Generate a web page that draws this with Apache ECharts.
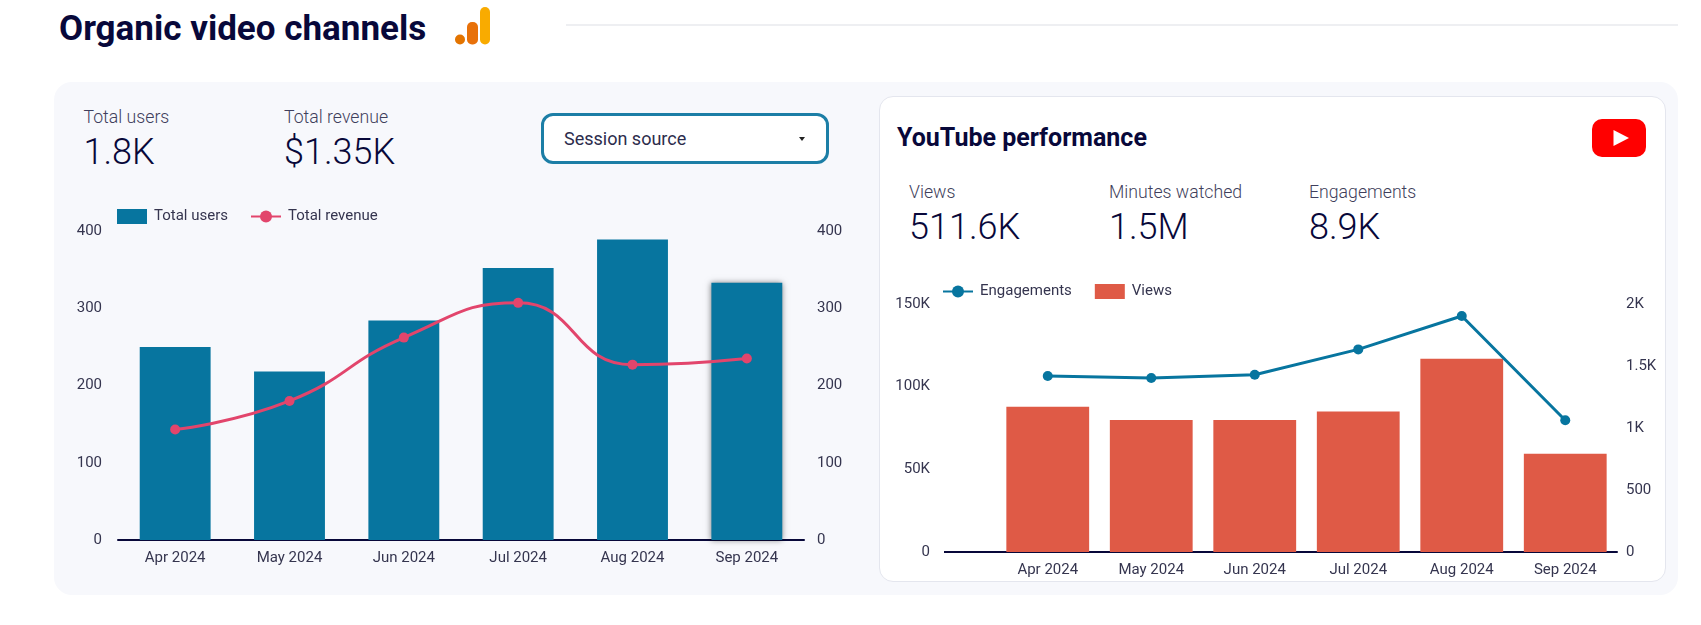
<!DOCTYPE html>
<html>
<head>
<meta charset="utf-8">
<title>Organic video channels</title>
<script src="https://cdn.jsdelivr.net/npm/echarts@6/dist/echarts.min.js"></script>
<style>
  html, body { margin: 0; padding: 0; background: #fff; overflow: hidden; }
  body { width: 1701px; height: 625px; position: relative; font-family: Roboto, sans-serif; color: #08083a; }
  .abs { position: absolute; white-space: nowrap; }
  .label { font-size: 17.7px; line-height: 24px; font-weight: 300; color: #3f3f5c; }
  .value { font-size: 36px; line-height: 40px; font-weight: 300; color: #08083a; }
  #chart { position: absolute; left: 0; top: 0; width: 1701px; height: 625px; }
</style>
</head>
<body>
<div class="abs" style="left:566px;top:24px;width:1112px;height:2px;background:#eeeff2"></div>
<div class="abs" style="left:54px;top:82px;width:1624px;height:513px;background:#f7f8fc;border-radius:18px"></div>
<div class="abs" style="left:879px;top:96px;width:785px;height:484px;background:#fff;border:1px solid #e4e6ee;border-radius:14px"></div>

<div class="abs" style="left:59px;top:9px;font-size:35px;line-height:40px;font-weight:700">Organic video channels</div>
<svg class="abs" style="left:455px;top:7px" width="35" height="38">
  <circle cx="5" cy="32.5" r="5" fill="#e37400"/>
  <rect x="12" y="15" width="11" height="22.5" rx="5" fill="#e8710a"/>
  <rect x="25" y="0" width="10" height="37.5" rx="5" fill="#f9ab00"/>
</svg>

<div class="abs label" style="left:83.5px;top:105px">Total users</div>
<div class="abs value" style="left:83.5px;top:132px">1.8K</div>
<div class="abs label" style="left:284px;top:105px">Total revenue</div>
<div class="abs value" style="left:284px;top:132px">$1.35K</div>

<div class="abs" style="left:541px;top:113px;width:282px;height:45px;border:3px solid #1c7ea6;border-radius:12px;background:#fff"></div>
<div class="abs" style="left:564px;top:127px;font-size:18px;line-height:24px;color:#2c2c4c">Session source</div>
<div class="abs" style="left:799px;top:137px;width:0;height:0;border-left:3px solid transparent;border-right:3px solid transparent;border-top:4px solid #222"></div>

<div class="abs" style="left:897px;top:122px;font-size:25px;line-height:32px;font-weight:700">YouTube performance</div>
<svg class="abs" style="left:1592px;top:119px" width="54" height="38">
  <rect width="54" height="38" rx="10" fill="#ff0000"/>
  <path d="M21.5 11 L37 19 L21.5 27 Z" fill="#fff"/>
</svg>

<div class="abs label" style="left:909px;top:180px">Views</div>
<div class="abs value" style="left:909px;top:207px">511.6K</div>
<div class="abs label" style="left:1109px;top:180px">Minutes watched</div>
<div class="abs value" style="left:1109px;top:207px">1.5M</div>
<div class="abs label" style="left:1309px;top:180px">Engagements</div>
<div class="abs value" style="left:1309px;top:207px">8.9K</div>

<div id="chart"></div>

<script>
// 数据
var months = ['Apr 2024', 'May 2024', 'Jun 2024', 'Jul 2024', 'Aug 2024', 'Sep 2024'];
var totalUsers = [250, 218, 284, 352, 389, 333];
var totalRevenue = [143, 180, 262, 307, 227, 235];
var ytViews = [87800, 79800, 79800, 85000, 116900, 59500];
var ytEngagements = [1419, 1403, 1430, 1634, 1903, 1062];

var navy = '#08083a';
var labelColor = '#35354f';
var teal = '#07759f';
var pink = '#e2456c';
var red = '#df5a46';

function kLabel(v) {
  return v >= 1000 ? (v / 1000) + 'K' : String(v);
}

function xAxis(gridIndex) {
  return {
    type: 'category',
    gridIndex: gridIndex,
    data: months,
    axisTick: { show: false },
    axisLine: { lineStyle: { color: navy, width: 2 } },
    axisLabel: { color: labelColor, fontSize: 15, fontFamily: 'Roboto', margin: 11 }
  };
}

function yAxis(gridIndex, position, max, interval, margin, fmt) {
  return {
    type: 'value',
    gridIndex: gridIndex,
    position: position,
    min: 0,
    max: max,
    interval: interval,
    axisLine: { show: false },
    axisTick: { show: false },
    splitLine: { show: false },
    axisLabel: {
      color: labelColor, fontSize: 15, fontFamily: 'Roboto', margin: margin,
      padding: [5, 0, 0, 0], formatter: fmt
    }
  };
}

function legendText() {
  return { color: labelColor, fontSize: 15, fontFamily: 'Roboto', padding: [0, 0, 0, 2] };
}

var myChart = echarts.init(document.getElementById('chart'), null, { renderer: 'canvas' });

var option = {
  animation: false,
  backgroundColor: 'transparent',
  textStyle: { fontFamily: 'Roboto' },
  legend: [
    {
      left: 112, top: 204,
      itemWidth: 30, itemHeight: 15, itemGap: 22,
      textStyle: legendText(),
      data: [{ name: 'Total users', icon: 'rect' }, { name: 'Total revenue' }]
    },
    {
      left: 937, top: 279,
      itemWidth: 30, itemHeight: 15, itemGap: 23,
      textStyle: legendText(),
      data: [{ name: 'Engagements' }, { name: 'Views', icon: 'rect' }]
    }
  ],
  grid: [
    { left: 118, top: 231, width: 686, height: 309 },
    { left: 996, top: 304, width: 621, height: 248 }
  ],
  xAxis: [xAxis(0), xAxis(1)],
  yAxis: [
    yAxis(0, 'left', 400, 100, 16),
    yAxis(0, 'right', 400, 100, 13),
    yAxis(1, 'left', 150000, 50000, 66, kLabel),
    yAxis(1, 'right', 2000, 500, 9, kLabel)
  ],
  series: [
    {
      name: 'Total users',
      type: 'bar',
      xAxisIndex: 0,
      yAxisIndex: 0,
      barWidth: '62%',
      itemStyle: { color: teal },
      data: totalUsers.map(function (v, i) {
        // 最后一根柱子带阴影（原图为悬停状态）
        if (i === totalUsers.length - 1) {
          return { value: v, itemStyle: { color: teal, shadowColor: 'rgba(0,0,0,0.5)', shadowBlur: 6 } };
        }
        return v;
      })
    },
    {
      name: 'Total revenue',
      type: 'line',
      xAxisIndex: 0,
      yAxisIndex: 1,
      smooth: 0.5,
      symbol: 'circle',
      symbolSize: 10,
      lineStyle: { color: pink, width: 3 },
      itemStyle: { color: pink },
      data: totalRevenue
    },
    {
      name: 'Views',
      type: 'bar',
      xAxisIndex: 1,
      yAxisIndex: 2,
      barWidth: '80%',
      itemStyle: { color: red },
      data: ytViews
    },
    {
      name: 'Engagements',
      type: 'line',
      xAxisIndex: 1,
      yAxisIndex: 3,
      symbol: 'circle',
      symbolSize: 10,
      lineStyle: { color: teal, width: 3 },
      itemStyle: { color: teal },
      data: ytEngagements
    }
  ],
  // 右图基线在第一个类目左侧还多出一段
  graphic: [
    { type: 'rect', shape: { x: 944, y: 551, width: 53, height: 2 }, style: { fill: navy }, silent: true }
  ]
};

myChart.setOption(option);
</script>
</body>
</html>
